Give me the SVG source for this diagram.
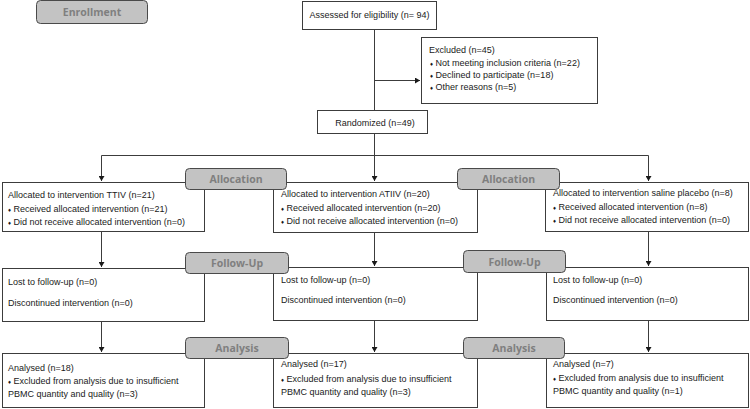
<svg xmlns="http://www.w3.org/2000/svg" width="750" height="409" viewBox="0 0 750 409">
<style>
.box{fill:#fff;stroke:#3c3c3c;stroke-width:1}
.lab{fill:#c3c3c3;stroke:#4a4a4a;stroke-width:1}
.lt{font-family:"Open Sans","Liberation Sans",sans-serif;font-weight:bold;font-size:10.5px;fill:#7f7f7f;text-anchor:middle}
.t{font-family:"Liberation Sans",Arial,sans-serif;font-size:9px;fill:#1a1a1a}
.b{font-size:6px}
.c{stroke:#3c3c3c;stroke-width:1;fill:none}
</style>
<defs>
<marker id="ah" markerUnits="userSpaceOnUse" markerWidth="6" markerHeight="6" refX="5" refY="3" orient="auto">
<path d="M0,0 L5,3 L0,6 Z" fill="#1a1a1a"/>
</marker>
</defs>
<rect width="750" height="409" fill="#fff"/>
<g id="connectors">
<path class="c" d="M374.5,29 V110"/>
<path class="c" d="M374.5,80.5 H420" marker-end="url(#ah)"/>
<path class="c" d="M374.5,133 V181"  marker-end="url(#ah)"/>
<path class="c" d="M101.5,181 V155.5 H648.5 V181" marker-end="url(#ah)"/>
<path class="c" d="M101.5,160 V181" marker-end="url(#ah)"/>
<path class="c" d="M101.5,231 V267" marker-end="url(#ah)"/>
<path class="c" d="M374.5,232 V266" marker-end="url(#ah)"/>
<path class="c" d="M648.5,231 V266" marker-end="url(#ah)"/>
<path class="c" d="M101.5,321 V352" marker-end="url(#ah)"/>
<path class="c" d="M374.5,320 V352" marker-end="url(#ah)"/>
<path class="c" d="M648.5,320 V352" marker-end="url(#ah)"/>
</g>
<g id="enrollment">
<rect class="lab" x="36.5" y="0.5" width="111" height="23" rx="4"/>
<text class="lt" x="92" y="16">Enrollment</text>
</g>
<g id="assessed">
<rect class="box" x="302.5" y="1.5" width="134" height="28"/>
<text class="t" x="369.5" y="18" text-anchor="middle">Assessed for eligibility (n= 94)</text>
</g>
<g id="excluded">
<rect class="box" x="421.5" y="37.5" width="176" height="66"/>
<text class="t" x="429" y="53">Excluded  (n=45)</text>
<text class="t" x="430" y="66"><tspan class="b">♦</tspan> Not meeting inclusion criteria (n=22)</text>
<text class="t" x="430" y="78"><tspan class="b">♦</tspan> Declined to participate (n=18)</text>
<text class="t" x="430" y="90"><tspan class="b">♦</tspan> Other reasons (n=5)</text>
</g>
<g id="randomized">
<rect class="box" x="317.5" y="110.5" width="110" height="23"/>
<text class="t" x="375" y="126" text-anchor="middle">Randomized (n=49)</text>
</g>
<g id="alloc-ttiv">
<rect class="box" x="2.5" y="182.5" width="202" height="49"/>
<text class="t" x="8" y="198">Allocated to intervention TTIV (n=21)</text>
<text class="t" x="8" y="212"><tspan class="b">♦</tspan> Received allocated intervention (n=21)</text>
<text class="t" x="8" y="225"><tspan class="b">♦</tspan> Did not receive allocated intervention (n=0)</text>
</g>
<g id="alloc-atiiv">
<rect class="box" x="273.5" y="182.5" width="204" height="50"/>
<text class="t" x="281" y="197">Allocated to intervention ATIIV (n=20)</text>
<text class="t" x="281" y="211"><tspan class="b">♦</tspan> Received allocated intervention (n=20)</text>
<text class="t" x="281" y="224"><tspan class="b">♦</tspan> Did not receive allocated intervention (n=0)</text>
</g>
<g id="alloc-saline">
<rect class="box" x="545.5" y="182.5" width="203" height="49"/>
<text class="t" x="553" y="196">Allocated to intervention saline placebo (n=8)</text>
<text class="t" x="553" y="210"><tspan class="b">♦</tspan> Received allocated intervention (n=8)</text>
<text class="t" x="553" y="223"><tspan class="b">♦</tspan> Did not receive allocated intervention (n=0)</text>
</g>
<g id="allocation-1">
<rect class="lab" x="185.5" y="168.5" width="101" height="21" rx="4"/>
<text class="lt" x="236" y="183">Allocation</text>
</g>
<g id="allocation-2">
<rect class="lab" x="457.5" y="168.5" width="102" height="21" rx="4"/>
<text class="lt" x="508.5" y="183">Allocation</text>
</g>
<g id="follow-ttiv">
<rect class="box" x="2.5" y="268.5" width="202" height="53"/>
<text class="t" x="8" y="285">Lost to follow-up (n=0)</text>
<text class="t" x="8" y="306">Discontinued intervention (n=0)</text>
</g>
<g id="follow-atiiv">
<rect class="box" x="273.5" y="267.5" width="204" height="53"/>
<text class="t" x="281" y="283">Lost to follow-up (n=0)</text>
<text class="t" x="281" y="303">Discontinued intervention (n=0)</text>
</g>
<g id="follow-saline">
<rect class="box" x="546.5" y="267.5" width="202" height="53"/>
<text class="t" x="553" y="283">Lost to follow-up (n=0)</text>
<text class="t" x="553" y="303">Discontinued intervention (n=0)</text>
</g>
<g id="followup-1">
<rect class="lab" x="185.5" y="252.5" width="103" height="21" rx="4"/>
<text class="lt" x="237" y="267">Follow-Up</text>
</g>
<g id="followup-2">
<rect class="lab" x="463.5" y="250.5" width="102" height="22" rx="4"/>
<text class="lt" x="514.5" y="265.5">Follow-Up</text>
</g>
<g id="analysis-ttiv">
<rect class="box" x="2.5" y="353.5" width="202" height="54"/>
<text class="t" x="8" y="371">Analysed  (n=18)</text>
<text class="t" x="8" y="384"><tspan class="b">♦</tspan> Excluded from analysis due to insufficient</text>
<text class="t" x="8" y="397">PBMC quantity and quality (n=3)</text>
</g>
<g id="analysis-atiiv">
<rect class="box" x="273.5" y="353.5" width="204" height="54"/>
<text class="t" x="281" y="367">Analysed  (n=17)</text>
<text class="t" x="281" y="382"><tspan class="b">♦</tspan> Excluded from analysis due to insufficient</text>
<text class="t" x="281" y="395">PBMC quantity and quality (n=3)</text>
</g>
<g id="analysis-saline">
<rect class="box" x="546.5" y="353.5" width="202" height="54"/>
<text class="t" x="553" y="367">Analysed  (n=7)</text>
<text class="t" x="553" y="381"><tspan class="b">♦</tspan> Excluded from analysis due to insufficient</text>
<text class="t" x="553" y="394">PBMC quantity and quality (n=1)</text>
</g>
<g id="analysis-1">
<rect class="lab" x="185.5" y="337.5" width="103" height="21" rx="4"/>
<text class="lt" x="237" y="352">Analysis</text>
</g>
<g id="analysis-2">
<rect class="lab" x="463.5" y="337.5" width="101" height="21" rx="4"/>
<text class="lt" x="514" y="352">Analysis</text>
</g>
</svg>
